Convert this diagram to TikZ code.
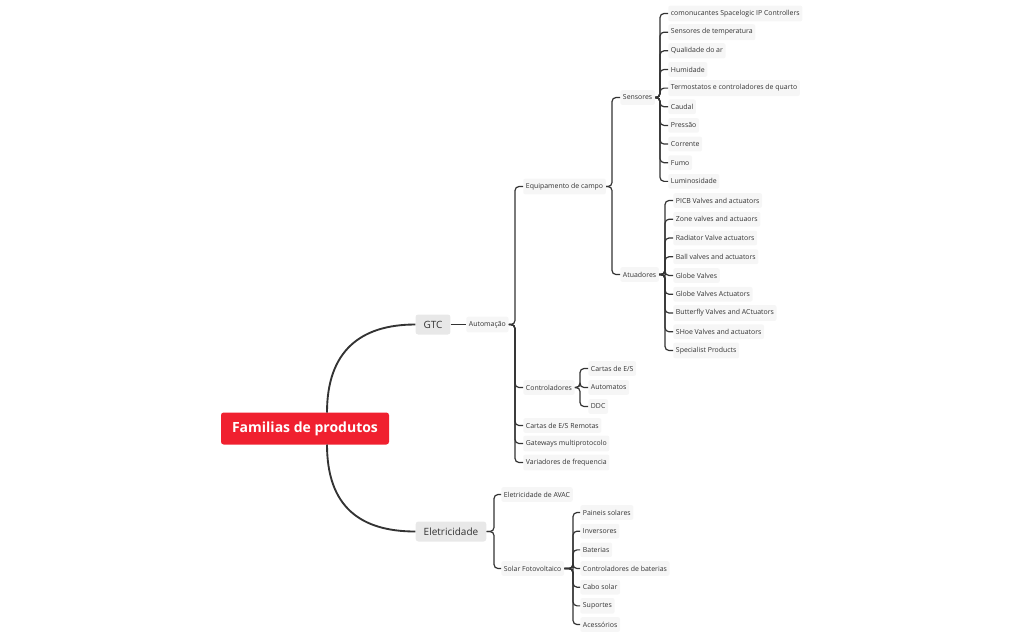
\documentclass[tikz,border=0pt]{standalone}
\usepackage{fontspec}
\setmainfont{Open Sans}
\usetikzlibrary{positioning}
\definecolor{rootred}{HTML}{F0202F}
\definecolor{linegray}{HTML}{333333}
\begin{document}
\begin{tikzpicture}[x=0.75pt, y=-0.75pt,
            root/.style={rectangle, rounded corners=2pt, fill=rootred, text=white, font=\fontsize{10.5}{12}\selectfont\bfseries, minimum width=126pt, minimum height=24pt},
            main/.style={rectangle, rounded corners=2pt, fill=gray!18, text=black!80, font=\fontsize{7.5}{9}\selectfont, minimum height=15pt, inner xsep=6pt},
            topic/.style={rectangle, rounded corners=1.5pt, fill=gray!7, text=black!80, font=\fontsize{5.2}{6}\selectfont, inner xsep=2pt, minimum height=11pt, anchor=west},
            branch/.style={line width=1.4pt, linegray},
            conn/.style={line width=0.9pt, linegray, rounded corners=3pt}
        ]
        \useasboundingbox (0,-1.5) rectangle (1027,634.5);

        % Root and main branches
        \node[root] (root) at (305,427) {Familias de produtos};
        \node[main] (gtc) at (433,323) {GTC};
        \node[main] (elec) at (451,530) {Eletricidade};
        \draw[branch] (327,411) .. controls (327,350) and (360,323) .. (gtc.west);
        \draw[branch] (327,443) .. controls (327,505) and (360,530) .. (elec.west);

        % GTC
        \node[topic] (auto) at (466,323) {Automação};
        \draw[conn] (gtc.east) -- (auto.west);

        \node[topic] (equip) at (523,185) {Equipamento de campo};
        \node[topic] (ctrl) at (523,386) {Controladores};
        \node[topic] (remote) at (523,424) {Cartas de E/S Remotas};
        \node[topic] (gate) at (523,442) {Gateways multiprotocolo};
        \node[topic] (vfd) at (523,461) {Variadores de frequencia};
        \foreach \c in {equip, ctrl, remote, gate, vfd}
            \draw[conn] (auto.east) -- (515,323) |- (\c.west);

        \node[topic] (sens) at (620,96) {Sensores};
        \node[topic] (act) at (620,273) {Atuadores};
        \foreach \c in {sens, act}
            \draw[conn] (equip.east) -- (612,185) |- (\c.west);

        % Sensores
        \foreach \t [count=\i] in {comonucantes Spacelogic IP Controllers, Sensores de temperatura, Qualidade do ar, Humidade, Termostatos e controladores de quarto, Caudal, Pressão, Corrente, Fumo, Luminosidade}{
            \node[topic] (s\i) at (668,{12+18.65*(\i-1)}) {\t};
            \draw[conn] (sens.east) -- (660,96) |- (s\i.west);
        }

        % Atuadores
        \foreach \t [count=\i] in {PICB Valves and actuators, Zone valves and actuaors, Radiator Valve actuators, Ball valves and actuators, Globe Valves, Globe Valves Actuators, Butterfly Valves and ACtuators, SHoe Valves and actuators, Specialist Products}{
            \node[topic] (a\i) at (673,{199+18.75*(\i-1)}) {\t};
            \draw[conn] (act.east) -- (665,273) |- (a\i.west);
        }

        % Controladores
        \foreach \t [count=\i] in {Cartas de E/S, Automatos, DDC}{
            \node[topic] (c\i) at (588,{367+19*(\i-1)}) {\t};
            \draw[conn] (ctrl.east) -- (580,386) |- (c\i.west);
        }

        % Eletricidade
        \node[topic] (avac) at (501,493) {Eletricidade de AVAC};
        \node[topic] (solar) at (501,567) {Solar Fotovoltaico};
        \foreach \c in {avac, solar}
            \draw[conn] (elec.east) -- (494,530) |- (\c.west);

        \foreach \t [count=\i] in {Paineis solares, Inversores, Baterias, Controladores de baterias, Cabo solar, Suportes, Acessórios}{
            \node[topic] (p\i) at (580,{511+18.67*(\i-1)}) {\t};
            \draw[conn] (solar.east) -- (573,567) |- (p\i.west);
        }

    \end{tikzpicture}
\end{document}
